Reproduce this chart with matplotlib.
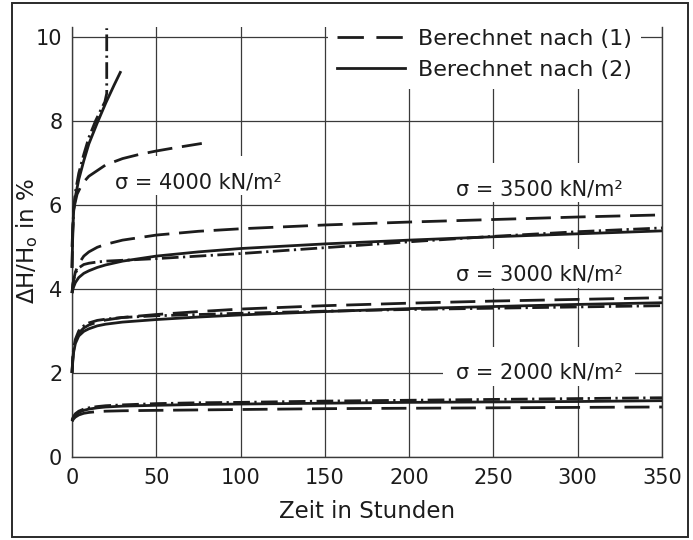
import matplotlib
matplotlib.use('Agg')
import matplotlib.pyplot as plt
from matplotlib.lines import Line2D
from matplotlib.patches import Rectangle

plt.rcParams['font.family'] = ['DejaVu Sans']

# ---------------- data ----------------
x_ticks = [0, 50, 100, 150, 200, 250, 300, 350]
y_ticks = [0, 2, 4, 6, 8, 10]

t_main = [0, 0.5, 1, 2, 4, 7, 10, 15, 20, 30, 50, 75, 100, 150, 200, 250, 300, 350]

h2000_dashed = [0.85, 0.88, 0.91, 0.95, 1.00, 1.04, 1.06, 1.08, 1.09, 1.10, 1.11, 1.12, 1.13, 1.15, 1.16, 1.17, 1.18, 1.19]
h2000_solid = [0.85, 0.90, 0.94, 1.00, 1.06, 1.11, 1.14, 1.17, 1.19, 1.21, 1.23, 1.25, 1.26, 1.28, 1.30, 1.31, 1.32, 1.34]
h2000_dashdot = [0.88, 0.93, 0.97, 1.03, 1.09, 1.14, 1.17, 1.20, 1.22, 1.24, 1.27, 1.29, 1.30, 1.33, 1.35, 1.37, 1.39, 1.41]

h3000_dashed = [2.0, 2.35, 2.55, 2.75, 2.95, 3.07, 3.14, 3.21, 3.26, 3.32, 3.39, 3.46, 3.52, 3.60, 3.66, 3.71, 3.75, 3.79]
h3000_solid = [2.0, 2.30, 2.50, 2.70, 2.88, 2.99, 3.05, 3.12, 3.16, 3.21, 3.27, 3.33, 3.38, 3.46, 3.53, 3.58, 3.63, 3.67]
h3000_dashdot = [2.0, 2.40, 2.60, 2.80, 3.00, 3.12, 3.19, 3.25, 3.28, 3.32, 3.36, 3.39, 3.42, 3.47, 3.51, 3.54, 3.57, 3.60]

h3500_dashed = [3.9, 4.10, 4.22, 4.40, 4.60, 4.78, 4.88, 4.99, 5.06, 5.16, 5.28, 5.37, 5.43, 5.52, 5.59, 5.65, 5.71, 5.76]
h3500_solid = [3.9, 3.98, 4.05, 4.15, 4.27, 4.37, 4.43, 4.51, 4.57, 4.66, 4.78, 4.88, 4.96, 5.07, 5.16, 5.24, 5.31, 5.38]
h3500_dashdot = [3.9, 4.10, 4.22, 4.38, 4.50, 4.58, 4.61, 4.64, 4.66, 4.68, 4.72, 4.78, 4.84, 4.98, 5.12, 5.25, 5.36, 5.45]

t_4000_dashed = [0, 1, 3, 6, 10, 20, 30, 40, 50, 60, 77]
h4000_dashed = [5.0, 5.9, 6.25, 6.5, 6.68, 6.95, 7.10, 7.20, 7.28, 7.35, 7.46]
t_4000_solid = [0, 0.5, 1, 2, 4, 7, 10, 15, 20, 25, 29]
h4000_solid = [4.5, 5.4, 5.85, 6.2, 6.6, 7.05, 7.45, 7.95, 8.42, 8.85, 9.18]
t_4000_dashdot = [0, 0.5, 1, 2, 4, 7, 10, 14, 17, 19.5, 20.6, 20.6]
h4000_dashdot = [4.5, 5.45, 5.9, 6.3, 6.75, 7.2, 7.6, 8.0, 8.25, 8.45, 8.65, 10.2]

labels = ['σ = 4000 kN/m²', 'σ = 3500 kN/m²', 'σ = 3000 kN/m²', 'σ = 2000 kN/m²']
label_pos = [(75, 6.54), (277, 6.37), (277, 4.34), (277, 2.01)]
legend_labels = ['Berechnet nach (1)', 'Berechnet nach (2)']

# ---------------- styling ----------------
W, H = 693, 540
fig = plt.figure(figsize=(W / 100, H / 100), dpi=100)
ax = fig.add_axes([72 / W, 1 - 457 / H, 590 / W, (457 - 26.6) / H])

ink = '#1c1c1c'
grid_c = '#3a3a3a'
lw = 2.0
DASH = (9, 3.5)
DASHDOT = (6, 1.6, 0.8, 1.6)
FS_TICK = 15
FS_LAB = 15
FS_LEG = 16
FS_AX = 16.5

ax.set_xlim(0, 350)
ax.set_ylim(0, 10.24)
ax.set_xticks(x_ticks)
ax.set_yticks(y_ticks)
ax.grid(True, color=grid_c, lw=0.9)
ax.set_axisbelow(True)
ax.tick_params(length=0, labelsize=FS_TICK, colors=ink)
ax.tick_params(axis='x', pad=8)
ax.tick_params(axis='y', pad=7)
for s in ['left', 'right', 'bottom']:
    ax.spines[s].set_color(grid_c)
    ax.spines[s].set_linewidth(1.0)
ax.spines['top'].set_visible(False)

series = [
    (t_main, h2000_dashed, DASH), (t_main, h2000_solid, None), (t_main, h2000_dashdot, DASHDOT),
    (t_main, h3000_dashed, DASH), (t_main, h3000_solid, None), (t_main, h3000_dashdot, DASHDOT),
    (t_main, h3500_dashed, DASH), (t_main, h3500_solid, None), (t_main, h3500_dashdot, DASHDOT),
    (t_4000_dashed, h4000_dashed, DASH), (t_4000_solid, h4000_solid, None),
    (t_4000_dashdot, h4000_dashdot, DASHDOT),
]
for t, h, d in series:
    ln, = ax.plot(t, h, color=ink, lw=lw, zorder=4, clip_on=False,
                  solid_capstyle='butt', dash_capstyle='butt',
                  solid_joinstyle='round')
    if d is not None:
        ln.set_dashes(d)

texts = []
for lab, (x, y) in zip(labels, label_pos):
    texts.append(ax.text(x, y, lab, ha='center', va='center', fontsize=FS_LAB,
                         color=ink, zorder=5))

ax.set_xlabel('Zeit in Stunden', fontsize=FS_AX, color=ink)
ax.xaxis.set_label_coords(0.5, -0.1)
ax.set_ylabel('ΔH/H$_\\mathregular{o}$ in %', fontsize=FS_AX, color=ink)
ax.yaxis.set_label_coords(-0.054, 0.502)

h1 = Line2D([], [], color=ink, lw=lw, dashes=(9.5, 4.5))
h2 = Line2D([], [], color=ink, lw=lw)
leg = ax.legend([h1, h2], legend_labels, loc='upper left',
                bbox_to_anchor=(152, 10.40), bbox_transform=ax.transData,
                frameon=True, fancybox=False, fontsize=FS_LEG, handlelength=3.06,
                handletextpad=0.59, labelspacing=0.5, borderpad=0.4,
                borderaxespad=0)
leg.get_frame().set_facecolor('white')
leg.get_frame().set_edgecolor('none')
leg.get_frame().set_alpha(1)
for tx in leg.get_texts():
    tx.set_color(ink)

# white backgrounds behind the stress labels (hide grid lines)
fig.canvas.draw()
r = fig.canvas.get_renderer()
for tx in texts:
    bb = tx.get_window_extent(r)
    x0, y0 = bb.x0 - 13, bb.y0 - 3
    x1, y1 = bb.x1 + 13, bb.y1 + 16
    ax.add_patch(Rectangle((x0 / W, y0 / H), (x1 - x0) / W, (y1 - y0) / H,
                           transform=fig.transFigure, facecolor='white',
                           edgecolor='none', zorder=3, clip_on=False))

# outer frame
fig.add_artist(Rectangle((12 / W, 3 / H), 676 / W, 534 / H, transform=fig.transFigure,
                         fill=False, edgecolor='#2a2a2a', lw=1.4))

fig.savefig('out.png', dpi=100)
